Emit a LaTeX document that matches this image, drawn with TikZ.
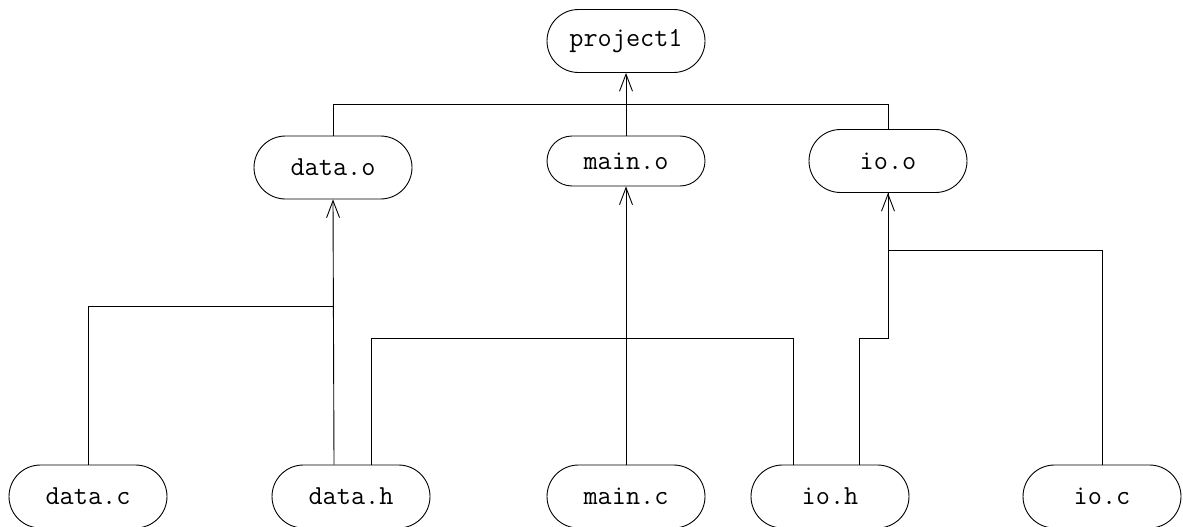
\documentclass[tikz,border=0pt]{standalone}
\usetikzlibrary{arrows.meta,calc}
\tikzset{
  file/.style={draw, rounded corners=31.5pt, minimum width=158pt, minimum height=63pt,
    inner sep=0pt, font=\ttfamily\fontsize{27.5}{27.5}\selectfont, line width=0.9pt},
  flat/.style={file, rounded corners=25pt, minimum height=50pt},
  wire/.style={line width=0.9pt},
  dep/.style={wire, -{Straight Barb[length=17pt,width=13pt,line width=0.9pt]}}
}
\begin{document}
\begin{tikzpicture}[x=1pt,y=-1pt]
\useasboundingbox (0,0) rectangle (1183,527);
\begin{scope}
\clip (0,0) rectangle (1183,527);
% target
\node[file] (p1) at (626,41) {project1};
% object files
\node[file] (do) at (333,167.5) {data.o};
\node[flat] (mo) at (626,161) {main.o};
\node[file] (oo) at (888,161) {io.o};
% sources and headers
\node[file] (dc) at (88,496.5) {data.c};
\node[file] (dh) at (351,496.5) {data.h};
\node[file] (mc) at (626,496.5) {main.c};
\node[file] (ih) at (830,496.5) {io.h};
\node[file] (ic) at (1102,496.5) {io.c};
\end{scope}

% link level into project1
\coordinate (top) at (626,104);
\draw[dep] (mo.north) -- (p1.south);
\draw[wire] (do.north) |- (top);
\draw[wire] (oo.north) |- (top);

% data.o
\coordinate (dhl) at ($(dh.north)+(-17,0)$);
\coordinate (dhr) at ($(dh.north)+(20,0)$);
\draw[dep] (dhl) -- (do.south);
\draw[wire] (dc.north) |- ($(dhl)+(0,-158)$);

% data.h to io.h
\coordinate (ihl) at ($(ih.north)+(-37,0)$);
\coordinate (ihr) at ($(ih.north)+(29,0)$);
\draw[wire] (dhr) -- ++(0,-126) -| (ihl);

% main.o
\draw[dep] (mc.north) -- (mo.south);

% io.o
\draw[wire] (ihr) -- ++(0,-126) -| (oo.south);
\draw[dep] ($(oo.south)+(0,146)$) -- (oo.south);
\draw[wire] (ic.north) |- ($(oo.south)+(0,57)$);
\end{tikzpicture}
\end{document}
